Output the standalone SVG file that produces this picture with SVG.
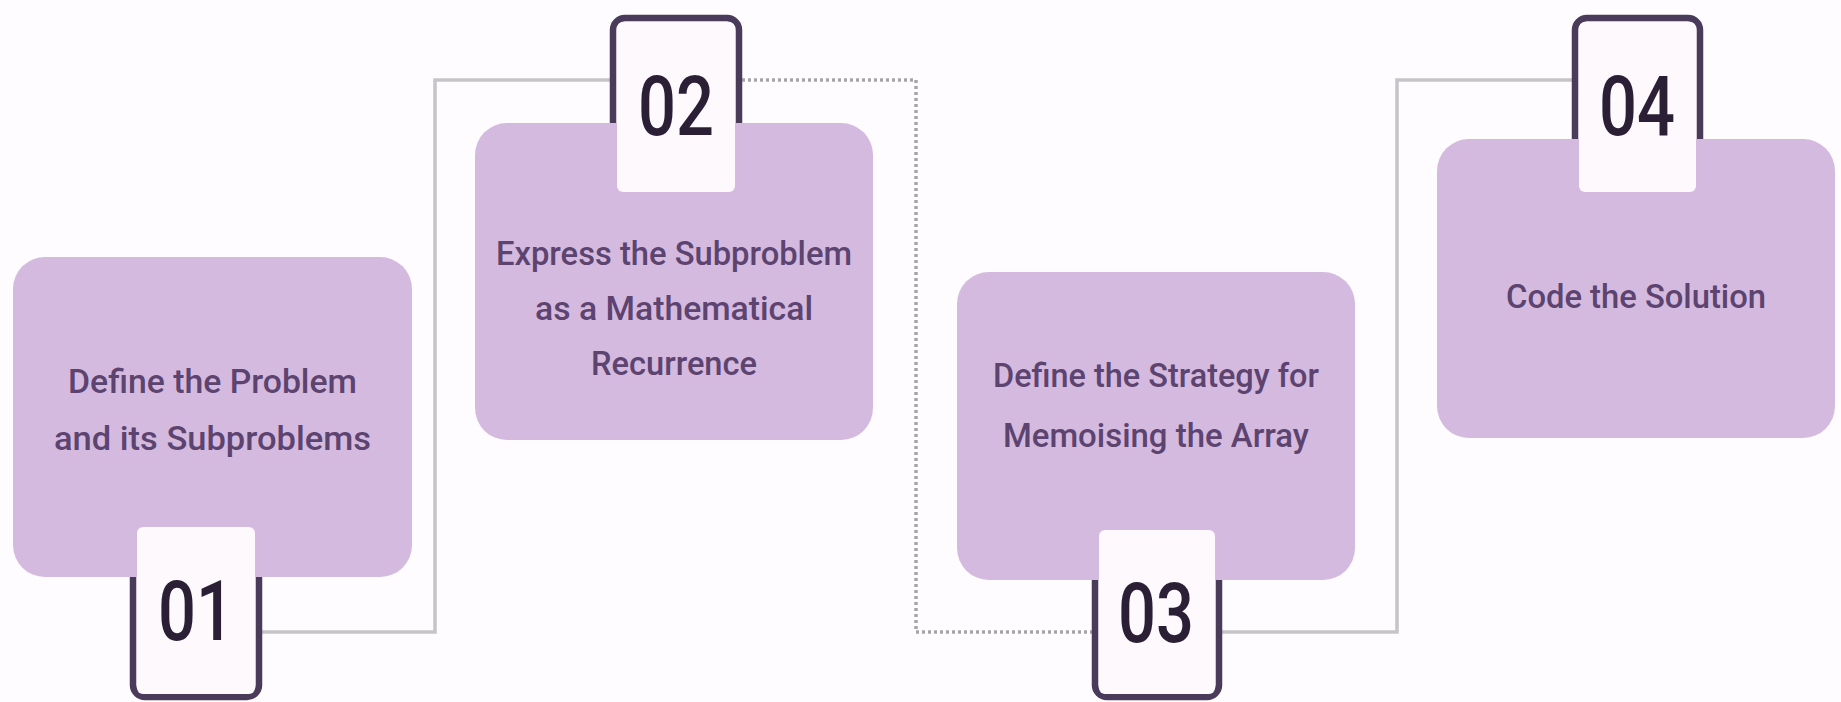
<svg xmlns="http://www.w3.org/2000/svg" width="1841" height="702" viewBox="0 0 1841 702">
  <style>
    .bg { fill: #fefcfe; }
    .box { fill: #d4bade; }
    .frame { fill: #fdf9fd; stroke: #4a3b5a; stroke-width: 6.5; }
    .inner { fill: #fdf9fd; }
    .label { font-family: Roboto, "Liberation Sans", sans-serif; font-weight: 500; font-size: 34px; fill: #5c4370; text-anchor: middle; }
    .num { font-family: Roboto, "Liberation Sans", sans-serif; font-weight: 500; font-size: 84px; fill: #2a1f35; text-anchor: middle; }
    .conn { fill: none; stroke: #c6c3c9; stroke-width: 3.5; }
    .conn.dotted { stroke: #a8a4ab; stroke-dasharray: 3 3; }
  </style>
  <rect class="bg" x="0" y="0" width="1841" height="702"/>

  <g id="connectors">
    <polyline class="conn" points="262,632 435,632 435,80 610,80"/>
    <polyline class="conn dotted" points="742,80 916,80 916,632 1092,632"/>
    <polyline class="conn" points="1222,632 1397,632 1397,80 1572,80"/>
  </g>

  <g id="step1">
    <rect class="frame" x="133" y="515" width="126" height="182" rx="12"/>
    <rect class="box" x="13" y="257" width="399" height="320" rx="32"/>
    <rect class="inner" x="137" y="527" width="118" height="167" rx="6"/>
    <text class="label" x="212.5" y="393" textLength="289" lengthAdjust="spacingAndGlyphs">Define the Problem</text>
    <text class="label" x="212.5" y="450" textLength="317" lengthAdjust="spacingAndGlyphs">and its Subproblems</text>
    <text class="num" x="196" y="640" textLength="76" lengthAdjust="spacingAndGlyphs">01</text>
  </g>

  <g id="step2">
    <rect class="frame" x="613" y="18" width="126" height="182" rx="12"/>
    <rect class="box" x="475" y="123" width="398" height="317" rx="32"/>
    <rect class="inner" x="617" y="22" width="118" height="170" rx="6"/>
    <text class="label" x="674" y="265" textLength="356" lengthAdjust="spacingAndGlyphs">Express the Subproblem</text>
    <text class="label" x="674" y="320" textLength="278" lengthAdjust="spacingAndGlyphs">as a Mathematical</text>
    <text class="label" x="674" y="375" textLength="166" lengthAdjust="spacingAndGlyphs">Recurrence</text>
    <text class="num" x="676" y="135" textLength="76" lengthAdjust="spacingAndGlyphs">02</text>
  </g>

  <g id="step3">
    <rect class="frame" x="1095" y="515" width="124" height="182" rx="12"/>
    <rect class="box" x="957" y="272" width="398" height="308" rx="32"/>
    <rect class="inner" x="1099" y="530" width="116" height="164" rx="6"/>
    <text class="label" x="1156" y="387" textLength="326" lengthAdjust="spacingAndGlyphs">Define the Strategy for</text>
    <text class="label" x="1156" y="447" textLength="306" lengthAdjust="spacingAndGlyphs">Memoising the Array</text>
    <text class="num" x="1156" y="642" textLength="76" lengthAdjust="spacingAndGlyphs">03</text>
  </g>

  <g id="step4">
    <rect class="frame" x="1575" y="18" width="125" height="182" rx="12"/>
    <rect class="box" x="1437" y="139" width="398" height="299" rx="32"/>
    <rect class="inner" x="1579" y="22" width="117" height="170" rx="6"/>
    <text class="label" x="1636" y="308" textLength="260" lengthAdjust="spacingAndGlyphs">Code the Solution</text>
    <text class="num" x="1637" y="135" textLength="76" lengthAdjust="spacingAndGlyphs">04</text>
  </g>
</svg>
